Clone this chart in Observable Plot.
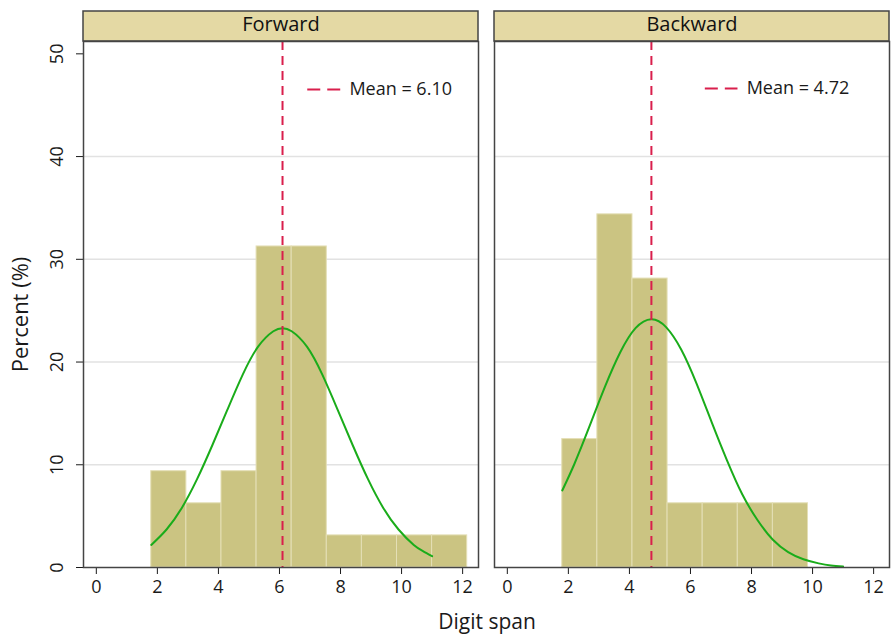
<!DOCTYPE html>
<html>
<head>
<meta charset="utf-8">
<script src="https://cdn.jsdelivr.net/npm/d3@7"></script>
<script src="https://cdn.jsdelivr.net/npm/@observablehq/plot@0.6"></script>
<style>
  html, body { margin: 0; padding: 0; background: #fff; }
  #wrap { position: relative; width: 891px; height: 637px; font-family: "Open Sans", sans-serif; }
  #xtitle { position: absolute; left: 83px; width: 808px; top: 606px; text-align: center; font-size: 21px; line-height: 30px; color: #1a1a1a; }
</style>
</head>
<body>
<div id="wrap"><div id="chart"></div><div id="xtitle">Digit span</div></div>
<script>
// ---- data ----
const panels = ["Forward", "Backward"];
const binEdges = [1.8, 2.95, 4.1, 5.25, 6.4, 7.55, 8.7, 9.85, 11.0, 12.15];
const forwardPercent = [9.375, 6.25, 9.375, 31.25, 31.25, 3.125, 3.125, 3.125, 3.125];
const backwardPercent = [12.5, 34.375, 28.125, 6.25, 6.25, 6.25, 6.25];
const means = [6.10, 4.72];
const meanLabels = ["Mean = 6.10", "Mean = 4.72"];
// normal-curve overlays, points
const forwardCurveX = [1.8, 2.3, 2.8, 3.3, 3.8, 4.3, 4.8, 5.3, 5.8, 6.1, 6.4, 6.9, 7.4, 7.9, 8.4, 8.9, 9.4, 9.9, 10.4, 10.7, 11.0];
const forwardCurveY = [2.2, 3.7, 5.8, 8.6, 11.9, 15.4, 18.8, 21.5, 23.0, 23.3, 23.0, 21.5, 18.8, 15.4, 11.9, 8.6, 5.8, 3.7, 2.2, 1.6, 1.1];
const backwardCurveX = [1.8, 2.2, 2.7, 3.2, 3.7, 4.2, 4.72, 5.2, 5.7, 6.2, 6.7, 7.2, 7.7, 8.2, 8.7, 9.2, 9.7, 10.2, 10.6, 11.0];
const backwardCurveY = [7.5, 10.1, 13.8, 17.6, 20.95, 23.3, 24.17, 23.4, 21.2, 17.9, 14.1, 10.4, 7.1, 4.6, 2.7, 1.5, 0.8, 0.4, 0.2, 0.1];
const xTicks = [0, 2, 4, 6, 8, 10, 12];
const yTicks = [0, 10, 20, 30, 40, 50];
const gridValues = [10, 20, 30, 40];

// ---- tables built from the arrays ----
const bars = [
  ...forwardPercent.map((p, i) => ({panel: "Forward", x1: binEdges[i], x2: binEdges[i + 1], pct: p})),
  ...backwardPercent.map((p, i) => ({panel: "Backward", x1: binEdges[i], x2: binEdges[i + 1], pct: p}))
];
const curve = [
  ...forwardCurveX.map((x, i) => ({panel: "Forward", x, y: forwardCurveY[i]})),
  ...backwardCurveX.map((x, i) => ({panel: "Backward", x, y: backwardCurveY[i]}))
];
const meanRows = panels.map((p, i) => ({panel: p, mean: means[i], label: meanLabels[i]}));
const strips = panels.map(p => ({panel: p}));
const grid = panels.flatMap(p => gridValues.map(v => ({panel: p, v})));
const yLabelRows = yTicks.map(v => ({panel: "Forward", v}));
const xLabelRows = panels.flatMap(p => xTicks.map(v => ({panel: p, v})));

// layout constants
const xDomain = [-0.42, 12.52];
const yDomain = [0, 51.2];
const stripTop = 54.12;
const legendPos = {
  Forward: {x1: 6.91, x2: 7.99, tx: 8.29, y: 46.53},
  Backward: {x1: 6.47, x2: 7.54, tx: 7.84, y: 46.63}
};
const legendRows = meanRows.map(r => ({...r, ...legendPos[r.panel]}));

const red = "#d91f4c";
const green = "#1aac1a";
const ink = "#1a1a1a";

const chart = Plot.plot({
  width: 891,
  height: 600,
  marginLeft: 83,
  marginRight: 1,
  marginTop: 41,
  marginBottom: 33,
  style: {fontFamily: "'Open Sans', sans-serif", fontSize: "18px", color: ink, background: "white", overflow: "visible"},
  fx: {domain: panels, axis: null, paddingInner: 0.0389, paddingOuter: 0},
  x: {domain: xDomain, ticks: xTicks, tickSize: 7, tickFormat: () => "", label: null},
  y: {domain: yDomain, ticks: yTicks, tickSize: 7, tickFormat: () => "", label: null},
  marks: [
    Plot.ruleY(grid, {fx: "panel", y: "v", stroke: "#e2e2e2", strokeWidth: 1.5}),
    Plot.rectY(bars, {fx: "panel", x1: "x1", x2: "x2", y1: 0, y2: "pct", fill: "#cbc482", stroke: "#e4dfb6", strokeWidth: 1}),
    Plot.line(curve, {fx: "panel", x: "x", y: "y", stroke: green, strokeWidth: 2, curve: "natural"}),
    Plot.ruleX(meanRows, {fx: "panel", x: "mean", stroke: red, strokeWidth: 2, strokeDasharray: "9,6"}),
    Plot.link(legendRows, {fx: "panel", x1: "x1", x2: "x2", y1: "y", y2: "y", stroke: red, strokeWidth: 2, strokeDasharray: "13,7"}),
    Plot.text(legendRows, {fx: "panel", x: "tx", y: "y", text: "label", textAnchor: "start", lineAnchor: "middle", fontSize: 18, fill: ink}),
    Plot.rect(strips, {fx: "panel", x1: xDomain[0], x2: xDomain[1], y1: yDomain[1], y2: stripTop, fill: "#e4d9a4", stroke: "#444", strokeWidth: 1.5}),
    Plot.text(strips, {fx: "panel", text: "panel", frameAnchor: "top", dy: -17, lineAnchor: "middle", fontSize: 20, fill: "#111"}),
    Plot.frame({stroke: "#444", strokeWidth: 1.5}),
    Plot.text(xLabelRows, {fx: "panel", x: "v", text: d => String(d.v), frameAnchor: "bottom", dy: 20, textAnchor: "middle", lineAnchor: "middle", fontSize: 18, fill: ink}),
    Plot.text(yLabelRows, {fx: "panel", y: "v", text: d => String(d.v), frameAnchor: "left", dx: -26, rotate: -90, textAnchor: "middle", lineAnchor: "middle", fontSize: 18, fill: ink}),
    Plot.text([{panel: "Forward"}], {fx: "panel", text: () => "Percent (%)", frameAnchor: "left", dx: -63, dy: 10, rotate: -90, textAnchor: "middle", lineAnchor: "middle", fontSize: 22, fill: ink})
  ]
});
document.getElementById("chart").appendChild(chart);
</script>
</body>
</html>
